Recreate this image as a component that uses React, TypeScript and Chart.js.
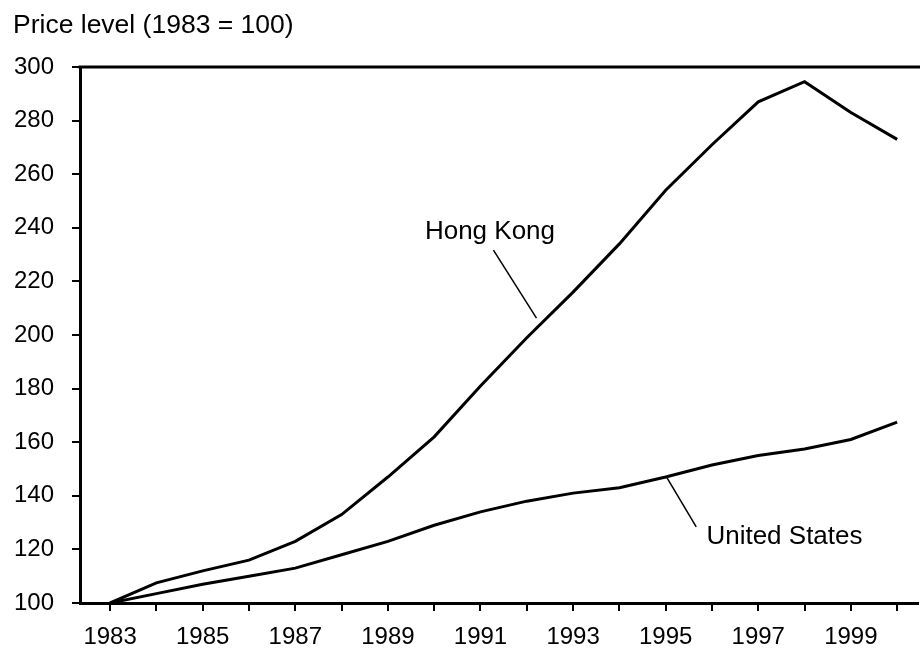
import React, { useEffect, useRef } from "react";
import { Chart, registerables } from "chart.js";

Chart.register(...registerables);

const years = [1983, 1984, 1985, 1986, 1987, 1988, 1989, 1990, 1991, 1992, 1993, 1994, 1995, 1996, 1997, 1998, 1999, 2000];
const hongKong = [100, 107.5, 112, 116, 123, 133, 147, 162, 181, 199, 216, 234, 254, 271, 287, 294.5, 283, 273];
const unitedStates = [100, 103.5, 107, 110, 113, 118, 123, 129, 134, 138, 141, 143, 147, 151.5, 155, 157.5, 161, 167.5];
const yTicks = [100, 120, 140, 160, 180, 200, 220, 240, 260, 280, 300];
const titleText = "Price level (1983 = 100)";
const hkLabel = { text: "Hong Kong", at: [1989.8, 238.4], leader: [[1991.28, 231.7], [1992.21, 206.3]] };
const usLabel = { text: "United States", at: [1995.88, 124.6], leader: [[1995.02, 147], [1995.66, 128.4]] };

const FONT = "'Liberation Sans', Arial, Helvetica, sans-serif";

export default function App() {
  const ref = useRef<HTMLCanvasElement | null>(null);
  useEffect(() => {
    const canvas = ref.current;
    if (!canvas) return;
    const overlay = {
      id: "overlay",
      afterDraw(chart: any) {
        const ctx = chart.ctx;
        const xs = chart.scales.x;
        const ys = chart.scales.y;
        const area = chart.chartArea;
        ctx.save();
        ctx.fillStyle = "#000";
        ctx.strokeStyle = "#000";
        // title
        ctx.font = `26.5px ${FONT}`;
        ctx.textAlign = "left";
        ctx.textBaseline = "alphabetic";
        ctx.fillText(titleText, 13, 33);
        // top frame line
        ctx.lineWidth = 3;
        ctx.beginPath();
        ctx.moveTo(area.left - 1.5, area.top);
        ctx.lineTo(920, area.top);
        ctx.stroke();
        // annotations
        ctx.font = `26px ${FONT}`;
        ctx.textBaseline = "middle";
        for (const lab of [hkLabel, usLabel]) {
          ctx.fillText(lab.text, xs.getPixelForValue(lab.at[0]), ys.getPixelForValue(lab.at[1]));
          ctx.lineWidth = 1.5;
          ctx.beginPath();
          ctx.moveTo(xs.getPixelForValue(lab.leader[0][0]), ys.getPixelForValue(lab.leader[0][1]));
          ctx.lineTo(xs.getPixelForValue(lab.leader[1][0]), ys.getPixelForValue(lab.leader[1][1]));
          ctx.stroke();
        }
        ctx.restore();
      },
    };
    const chart = new Chart(canvas, {
      type: "line",
      data: {
        datasets: [
          {
            label: "Hong Kong",
            data: years.map((y, i) => ({ x: y, y: hongKong[i] })),
            borderColor: "#000",
            borderWidth: 3,
            pointRadius: 0,
            tension: 0,
          },
          {
            label: "United States",
            data: years.map((y, i) => ({ x: y, y: unitedStates[i] })),
            borderColor: "#000",
            borderWidth: 3,
            pointRadius: 0,
            tension: 0,
          },
        ],
      },
      options: {
        responsive: false,
        animation: false,
        layout: { padding: { top: 67, right: 2, left: 0, bottom: 0 } },
        plugins: { legend: { display: false }, tooltip: { enabled: false }, title: { display: false } },
        scales: {
          x: {
            type: "linear",
            min: 1982.35,
            max: 2000.45,
            afterBuildTicks: (scale: any) => {
              scale.ticks = years.map((v) => ({ value: v }));
            },
            afterFit: (scale: any) => {
              scale.height = 45;
            },
            ticks: {
              autoSkip: false,
              maxRotation: 0,
              padding: 12,
              color: "#000",
              font: { family: FONT, size: 24 },
              callback: (v: any) => (Number(v) % 2 === 1 ? String(v) : ""),
            },
            grid: { drawOnChartArea: false, drawTicks: true, tickLength: 8, color: "#000", lineWidth: 2 },
            border: { display: true, color: "#000", width: 3 },
          },
          y: {
            min: 100,
            max: 300,
            afterBuildTicks: (scale: any) => {
              scale.ticks = yTicks.map((v) => ({ value: v }));
            },
            afterFit: (scale: any) => {
              scale.width = 80;
            },
            ticks: {
              padding: 18,
              color: "#000",
              font: { family: FONT, size: 24 },
            },
            grid: { drawOnChartArea: false, drawTicks: true, tickLength: 8, color: "#000", lineWidth: 2 },
            border: { display: true, color: "#000", width: 3 },
          },
        },
      },
      plugins: [overlay],
    } as any);
    return () => chart.destroy();
  }, []);
  return (
    <div style={{ position: "fixed", left: 0, top: 0, width: 920, height: 648, background: "#fff" }}>
      <canvas ref={ref} width={920} height={648} />
    </div>
  );
}
